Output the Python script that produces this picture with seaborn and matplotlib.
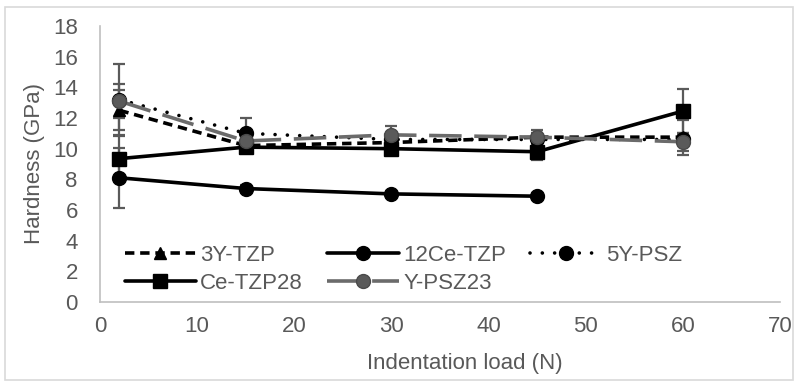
import matplotlib
matplotlib.use("Agg")
import matplotlib.pyplot as plt
import seaborn as sns
import pandas as pd
from matplotlib.patches import Rectangle

# ---- data ----
loads = [2, 15, 30, 45, 60]
loads_12ce = [2, 15, 30, 45]
y_3ytzp = [12.5, 10.2, 10.4, 10.75, 10.75]
e_3ytzp = [1.3, 0.3, 0.3, 0.3, 1.15]
y_12ce = [8.1, 7.4, 7.05, 6.9]
e_12ce = [1.95, 0.2, 0.2, 0.2]
y_5ypsz = [13.2, 11.0, 10.6, 10.6, 10.6]
e_5ypsz = [2.3, 1.0, 0.3, 0.3, 0.3]
y_cetzp28 = [9.35, 10.1, 10.0, 9.8, 12.45]
e_cetzp28 = [1.45, 0.3, 0.3, 0.55, 1.45]
y_ypsz23 = [13.1, 10.5, 10.9, 10.75, 10.45]
e_ypsz23 = [1.1, 0.3, 0.6, 0.45, 0.6]

x_ticks = [0, 10, 20, 30, 40, 50, 60, 70]
y_ticks = [0, 2, 4, 6, 8, 10, 12, 14, 16, 18]

sns.set_theme(style="white")
plt.rcParams['font.family'] = ['Liberation Sans', 'DejaVu Sans']

TXT = "#595959"
GRAY = "#6b6b6b"
FS = 16

fig = plt.figure(figsize=(7.98, 3.85), dpi=100)
ax = fig.add_axes([100/798, (385-302)/385, 680/798, 276/385])

series = [
    ("3Y-TZP", loads, y_3ytzp, e_3ytzp, dict(color="black", marker="^", dashes=(2.6, 1.6), mfc="black", mec="black")),
    ("12Ce-TZP", loads_12ce, y_12ce, e_12ce, dict(color="black", marker="o", dashes=(None, None), mfc="black", mec="black")),
    ("5Y-PSZ", loads, y_5ypsz, e_5ypsz, dict(color="black", marker="o", dashes=(0.01, 3.4), mfc="black", mec="black")),
    ("Ce-TZP28", loads, y_cetzp28, e_cetzp28, dict(color="black", marker="s", dashes=(None, None), mfc="black", mec="black")),
    ("Y-PSZ23", loads, y_ypsz23, e_ypsz23, dict(color=GRAY, marker="o", dashes=(9, 3.5), mfc="#5a5a5a", mec="#4a4a4a")),
]

handles = {}
for name, xs, ys, es, st in series:
    ax.errorbar(xs, ys, yerr=es, fmt="none", ecolor="#5a5a5a", elinewidth=1.6, capsize=4.5, capthick=1.6, zorder=2)
    df = pd.DataFrame({"load": xs, "hardness": ys})
    sns.lineplot(data=df, x="load", y="hardness", ax=ax, color=st["color"], marker=st["marker"],
                 markersize=10 if st["marker"] != "^" else 9, markerfacecolor=st["mfc"], markeredgecolor=st["mec"],
                 markeredgewidth=1, linewidth=2.6, label=name, zorder=3)
    line = ax.lines[-1]
    if st["dashes"][0] is not None:
        line.set_dashes(st["dashes"])
        line.set_dash_capstyle("round" if name == "5Y-PSZ" else "butt")
    handles[name] = line

ax.set_xlim(0, 70)
ax.set_ylim(0, 18)
ax.set_xticks(x_ticks)
ax.set_yticks(y_ticks)
ax.tick_params(axis="x", length=0, labelsize=FS, labelcolor=TXT, pad=10)
ax.tick_params(axis="y", length=0, labelsize=FS, labelcolor=TXT, pad=16)
for s in ["top", "right"]:
    ax.spines[s].set_visible(False)
for s in ["left", "bottom"]:
    ax.spines[s].set_color("#bfbfbf")
    ax.spines[s].set_linewidth(1.2)
ax.set_xlabel("Indentation load (N)", fontsize=FS, color=TXT)
ax.set_ylabel("Hardness (GPa)", fontsize=FS, color=TXT)
ax.xaxis.set_label_coords((465 - 100) / 680, (302 - 353) / 276)
ax.yaxis.set_label_coords((45 - 100) / 680, (302 - 164) / 276)

order = ["3Y-TZP", "Ce-TZP28", "12Ce-TZP", "Y-PSZ23", "5Y-PSZ"]
leg = ax.legend([handles[n] for n in order], order, ncol=3, loc="lower left",
                bbox_to_anchor=(0.02, -0.012), frameon=False, fontsize=FS,
                handlelength=3.2, handletextpad=0.2, columnspacing=1.1,
                labelspacing=0.33, borderaxespad=0.1)
for t in leg.get_texts():
    t.set_color(TXT)

fig.patches.append(Rectangle((5/798, 5/385), 788/798, 373/385, transform=fig.transFigure,
                             fill=False, edgecolor="#d9d9d9", linewidth=1.2))

fig.savefig("out.png", dpi=100)
